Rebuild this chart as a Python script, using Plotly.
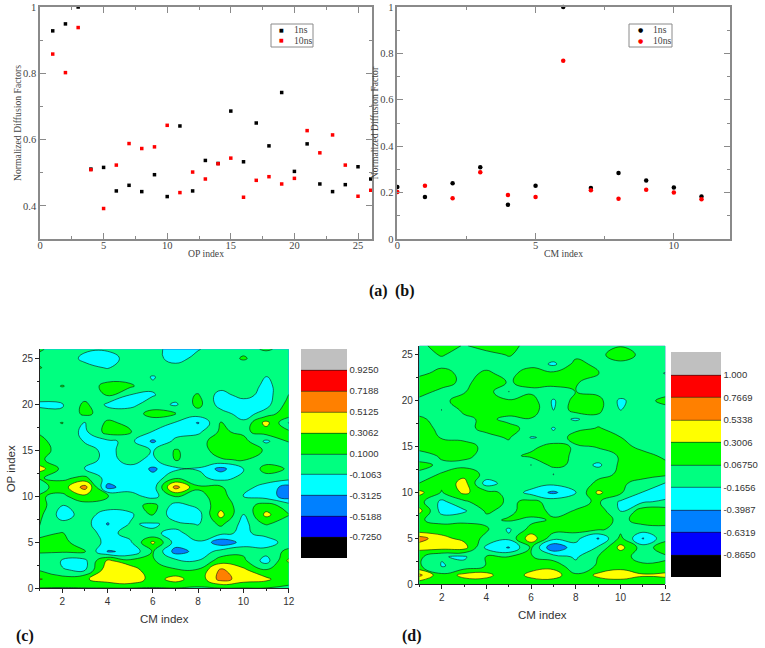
import plotly.graph_objects as go

W, H = 765, 648

op_index = list(range(1, 27))
op_1ns = [.928,.949,1,.511,.516,.445,.462,.443,.494,.428,.641,.445,.537,.528,.686,.533,.650,.581,.742,.504,.587,.466,.443,.464,.518,.481]
op_10ns = [.858,.802,.938,.509,.392,.523,.588,.573,.578,.643,.440,.502,.481,.527,.544,.426,.477,.488,.466,.483,.627,.560,.614,.523,.429,.447]
cm_index = list(range(0, 12))
cm_1ns = [.224,.181,.240,.309,.148,.229,1,.220,.285,.252,.222,.183]
cm_10ns = [.203,.229,.176,.288,.190,.181,.768,.210,.173,.212,.200,.171]
series_names = ["1ns", "10ns"]

grid_x = list(range(1, 13))
grid_y = list(range(0, 27))

z_c = [
 [.09]*12,
 [.32,.2,.28,.42,.5,.2,.4,.15,.6,.42,.36,.12],
 [.08,-.1,-.12,.45,.45,.12,.12,.12,.55,.35,.11,.12],
 [0,-.12,-.15,.35,.15,.12,-.05,-.1,.2,.15,-.2,.35],
 [.12,.12,.11,-.33,-.28,.12,-.4,-.25,-.03,.05,-.02,.15],
 [.15,.15,0,-.15,-.14,.35,-.2,-.12,-.45,-.25,-.22,0],
 [.05,.11,-.02,-.18,-.02,-.08,-.15,-.03,-.05,-.15,-.03,0],
 [.11,-.05,-.02,-.33,-.09,-.13,-.05,-.12,.15,-.18,.12,0],
 [.15,-.2,-.02,-.2,-.15,.12,-.25,-.2,.38,-.12,.36,.11],
 [.2,-.12,0,-.02,0,.18,-.2,-.05,.22,0,.2,0],
 [.12,.05,.25,.12,-.02,-.18,.11,.03,.2,-.12,-.2,-.42],
 [.03,.2,.6,-.38,-.2,-.22,.6,.13,.12,-.02,-.2,-.4],
 [.11,.06,.15,-.2,-.15,-.25,.07,-.05,-.18,-.05,.02,-.03],
 [.4,.04,-.12,-.25,-.15,-.35,-.15,-.12,-.38,-.12,.18,.08],
 [.13,0,-.03,-.16,-.05,-.15,.12,0,.08,.12,0,0],
 [.18,.02,-.02,-.17,0,-.12,.12,0,.2,.2,.08,0],
 [.15,0,-.12,-.15,-.05,-.35,-.05,.03,.2,.18,-.15,.11],
 [.08,0,-.15,.18,.12,-.12,-.2,-.15,.14,.05,.2,.15],
 [0,.11,-.12,.14,.05,0,-.12,-.33,.11,-.06,.38,-.12],
 [-.02,-.08,.15,0,0,.17,.11,0,-.02,-.2,-.02,.25],
 [-.15,-.12,.15,-.15,-.17,0,-.14,.17,-.2,-.25,-.18,.18],
 [0,0,0,.11,-.12,-.12,0,.12,-.2,-.02,-.2,.11],
 [0,.11,0,.16,.14,-.08,0,0,-.02,0,-.15,0],
 [0,0,0,.02,0,-.12,0,0,0,0,-.12,0],
 [.11,0,-.05,-.12,-.01,0,-.02,0,0,0,0,0],
 [.05,0,-.15,-.2,-.02,-.02,-.2,-.03,0,.12,0,0],
 [.12,.02,-.08,-.08,0,-.05,-.18,-.12,0,.05,.12,.05],
]

z_d = [
 [.12]*12,
 [.6,.12,.38,.38,.12,.38,.42,.1,.36,.45,.33,.36],
 [.1,-.18,-.1,.08,.08,.18,.22,-.1,.1,.2,.1,.12],
 [.12,-.15,-.2,.08,.07,.08,-.05,-.2,.07,.13,0,.03],
 [.38,.4,.4,-.22,-.42,.1,-.62,-.25,-.15,.38,-.05,.2],
 [.65,.36,.24,0,-.12,.45,-.1,-.1,-.42,.13,-.42,0],
 [.12,.2,.2,.1,-.2,.15,.18,.17,.1,0,-.04,0],
 [.1,-.03,0,0,.1,0,.1,.2,.2,0,.17,.17],
 [.38,-.25,-.2,.1,0,.2,0,.08,.2,-.18,.2,.18],
 [.15,-.22,.02,.22,.02,.13,-.02,0,.1,-.2,-.2,-.12],
 [.37,.05,.35,.15,0,-.25,-.45,-.18,.35,.1,-.18,-.3],
 [.07,.12,.4,-.28,-.05,-.02,-.1,-.1,.12,.1,0,-.18],
 [0,.08,.22,0,0,0,-.17,.02,0,.1,.14,.12],
 [.17,0,0,0,0,-.17,.15,0,-.22,.12,.2,.12],
 [-.12,.12,.12,0,0,.12,.22,0,0,.08,.15,.02],
 [.22,.2,.17,0,0,0,.17,.03,.08,.15,0,0],
 [.2,.05,0,0,.09,-.18,-.12,.18,.22,.07,0,0],
 [.15,.02,0,.13,.15,-.02,-.18,0,.08,0,0,0],
 [.1,0,0,.13,0,.05,-.05,-.2,0,0,0,0],
 [0,-.17,.13,.1,.2,.2,-.17,.18,.12,-.17,0,0],
 [0,0,.18,.17,.1,.18,-.2,.17,.15,-.22,0,.12],
 [.17,0,.05,.18,-.17,.02,0,.07,0,0,0,0],
 [.2,.18,0,.2,.05,.13,.12,.08,0,0,0,0],
 [0,.15,0,.1,0,.17,.12,.2,.07,0,0,-.18],
 [0,0,0,0,0,0,-.22,.15,0,0,0,0],
 [0,.08,0,0,.08,0,0,0,0,.2,0,0],
 [0,.18,.05,.15,.13,0,0,0,0,.05,0,0],
]

levels_c = [-0.7250,-0.5188,-0.3125,-0.1063,0.1000,0.3062,0.5125,0.7188,0.9250]
labels_c = ["-0.7250","-0.5188","-0.3125","-0.1063","0.1000","0.3062","0.5125","0.7188","0.9250"]
levels_d = [-0.8650,-0.6319,-0.3987,-0.1656,0.0675,0.3006,0.5338,0.7669,1.000]
labels_d = ["-0.8650","-0.6319","-0.3987","-0.1656","0.06750","0.3006","0.5338","0.7669","1.000"]
band_colors = ["#000000","#0000ff","#0080ff","#00ffff","#00ff80","#00ff00","#ffff00","#ff8000","#ff0000","#c0c0c0"]

def step_scale(colors):
    n = len(colors)
    out = []
    for i, c in enumerate(colors):
        out += [[i/n, c], [(i+1)/n, c]]
    return out

def dom_x(a, b): return [a/W, b/W]
def dom_y(top, bottom): return [1-bottom/H, 1-top/H]

SERIF = "Liberation Serif"
SANS = "Liberation Sans"
GREY = "#8a8a8a"
TXT = "#444444"

fig = go.Figure()

mk = dict(mode="markers", hoverinfo="skip", showlegend=False, cliponaxis=False)
fig.add_trace(go.Scatter(x=op_index, y=op_1ns, name=series_names[0], marker=dict(color="black", size=3.5, symbol="square"), xaxis="x", yaxis="y", **mk))
fig.add_trace(go.Scatter(x=op_index, y=op_10ns, name=series_names[1], marker=dict(color="#ff0000", size=3.5, symbol="square"), xaxis="x", yaxis="y", **mk))
fig.add_trace(go.Scatter(x=cm_index, y=cm_1ns, name=series_names[0], marker=dict(color="black", size=4.5, symbol="circle"), xaxis="x2", yaxis="y2", **mk))
fig.add_trace(go.Scatter(x=cm_index, y=cm_10ns, name=series_names[1], marker=dict(color="#ff0000", size=4.5, symbol="circle"), xaxis="x2", yaxis="y2", **mk))

def contour(z, levels, labels, xa, ya, bar_x, bar_top, bar_bottom, thick):
    size = (levels[-1]-levels[0])/(len(levels)-1)
    return go.Contour(
        x=grid_x, y=grid_y, z=z, xaxis=xa, yaxis=ya,
        zmin=levels[0]-size, zmax=levels[-1]+size, zauto=False,
        autocontour=False,
        contours=dict(start=levels[0], end=levels[-1], size=size, coloring="fill"),
        colorscale=step_scale(band_colors),
        line=dict(color="#111111", width=0.6, smoothing=1.3),
        hoverinfo="skip",
        colorbar=dict(
            x=bar_x/W, xanchor="left", xref="paper",
            y=1-bar_bottom/H, yanchor="bottom", yref="paper",
            len=bar_bottom-bar_top, lenmode="pixels",
            thickness=thick, thicknessmode="pixels",
            tickmode="array", tickvals=levels, ticktext=labels,
            ticks="", outlinewidth=0, borderwidth=0, xpad=0, ypad=0,
            tickfont=dict(family=SANS, size=9.5, color="#333333"),
        ),
    )

fig.add_trace(contour(z_c, levels_c, labels_c, "x3", "y3", 300.7, 349, 558, 45.5))
fig.add_trace(contour(z_d, levels_d, labels_d, "x4", "y4", 670.7, 352.3, 577.3, 49.5))

def top_axis(domain, rng, title, dtick, minor_dtick, **kw):
    return dict(domain=domain, range=rng, showgrid=False, zeroline=False, showline=True,
                linecolor=GREY, linewidth=1.5, mirror="ticks", ticks="inside", ticklen=6,
                tickcolor=GREY, tickwidth=1, dtick=dtick, tick0=0,
                tickfont=dict(family=SERIF, size=10.5, color=TXT),
                minor=dict(dtick=minor_dtick, ticks="inside", ticklen=3, tickcolor=GREY, showgrid=False),
                title=dict(text=title, font=dict(family=SERIF, size=9.7, color=TXT), standoff=0), **kw)

def low_axis(domain, rng, title, dtick, minor_dtick, standoff, **kw):
    return dict(domain=domain, range=rng, showgrid=False, zeroline=False, showline=True,
                linecolor="#222222", linewidth=1, ticks="outside", ticklen=3.5,
                tickcolor="#222222", tickwidth=1, dtick=dtick, tick0=0,
                tickfont=dict(family=SANS, size=10, color="#333333"),
                minor=dict(dtick=minor_dtick, ticks="outside", ticklen=2, tickcolor="#222222", showgrid=False),
                title=dict(text=title, font=dict(family=SANS, size=11.5, color="#333333"), standoff=standoff), **kw)

def tag(text, px, py):
    return dict(text=f"<b>{text}</b>", x=px/W, y=1-py/H, xref="paper", yref="paper",
                xanchor="center", yanchor="middle", showarrow=False,
                font=dict(family=SERIF, size=16, color="#111111"))

def key_text(glyph, color, label, glyph_x, text_x, py, size):
    return [
        dict(text=glyph, x=glyph_x/W, y=1-py/H, xref="paper", yref="paper", xanchor="center", yanchor="middle",
             showarrow=False, font=dict(family="DejaVu Sans", size=size, color=color)),
        dict(text=label, x=text_x/W, y=1-py/H, xref="paper", yref="paper", xanchor="left", yanchor="middle",
             showarrow=False, font=dict(family=SERIF, size=9.7, color=TXT)),
    ]

def key_box(a, b, top, bottom):
    return dict(type="rect", xref="paper", yref="paper", x0=a/W, x1=b/W, y0=1-bottom/H, y1=1-top/H,
                line=dict(color=GREY, width=1), fillcolor="white")

notes = [tag("(a)", 378, 291), tag("(b)", 405, 291), tag("(c)", 25, 636), tag("(d)", 412, 636)]
notes += key_text("■", "black", series_names[0], 281, 292, 30, 5) + key_text("■", "#ff0000", series_names[1], 281, 292, 40, 5)
notes += key_text("●", "black", series_names[0], 640, 651, 30, 6) + key_text("●", "#ff0000", series_names[1], 640, 651, 40, 6)

fig.update_layout(
    width=W, height=H, margin=dict(l=0, r=0, t=0, b=0, autoexpand=False),
    paper_bgcolor="white", plot_bgcolor="white",
    showlegend=False,
    xaxis=top_axis(dom_x(40, 372), [0, 26.1], "OP index", 5, 2.5, anchor="y", ticklabelstandoff=-4),
    yaxis=top_axis(dom_y(7, 239), [0.3, 1], "Normalized Diffusion Factors", 0.2, 0.1, anchor="x"),
    xaxis2=top_axis(dom_x(397.3, 729.7), [0, 12.02], "CM index", 5, 2.5, anchor="y2", ticklabelstandoff=-4),
    yaxis2=top_axis(dom_y(7, 239), [0, 1], "Normalized Diffusion Factor", 0.2, 0.1, anchor="x2"),
    xaxis3=low_axis(dom_x(39.7, 288.7), [1, 12], "CM index", 2, 1, 9, anchor="y3"),
    yaxis3=low_axis(dom_y(349.3, 588.3), [0, 26], "OP index", 5, 2.5, 4, anchor="x3"),
    xaxis4=low_axis(dom_x(419.3, 665.3), [1, 12], "CM index", 2, 1, 9, anchor="y4"),
    yaxis4=low_axis(dom_y(345.7, 584.3), [0, 26], "", 5, 2.5, 4, anchor="x4"),
    shapes=[key_box(271, 313, 24, 47), key_box(629, 672, 24, 47)],
    annotations=notes,
)

fig.write_html("out.html", config={"displayModeBar": False},
               post_script="document.body.style.margin='0';document.body.style.overflow='hidden';")
